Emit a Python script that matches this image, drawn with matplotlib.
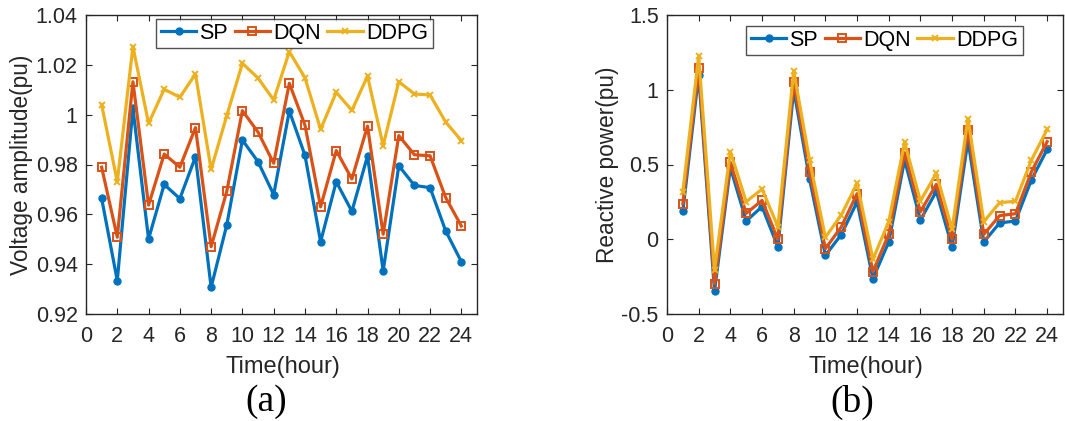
import matplotlib
matplotlib.use("Agg")
import matplotlib.pyplot as plt

hours = list(range(1, 25))
series_names = ["SP", "DQN", "DDPG"]

voltage_sp = [0.9664, 0.9334, 1.0025, 0.9501, 0.9720, 0.9663, 0.9831, 0.9307, 0.9557, 0.9898,
              0.9811, 0.9679, 1.0015, 0.9837, 0.9490, 0.9731, 0.9612, 0.9834, 0.9373, 0.9795,
              0.9716, 0.9707, 0.9533, 0.9410]
voltage_dqn = [0.9789, 0.9508, 1.0132, 0.9637, 0.9842, 0.9789, 0.9948, 0.9470, 0.9692, 1.0016,
               0.9930, 0.9805, 1.0126, 0.9958, 0.9630, 0.9856, 0.9742, 0.9954, 0.9520, 0.9916,
               0.9839, 0.9835, 0.9667, 0.9553]
voltage_ddpg = [1.0040, 0.9731, 1.0273, 0.9965, 1.0102, 1.0070, 1.0163, 0.9780, 0.9996, 1.0206,
                1.0147, 1.0059, 1.0253, 1.0148, 0.9941, 1.0090, 1.0017, 1.0155, 0.9876, 1.0132,
                1.0083, 1.0079, 0.9970, 0.9896]

reactive_sp = [0.189, 1.10, -0.346, 0.48, 0.122, 0.218, -0.052, 1.00, 0.403, -0.108,
               0.031, 0.25, -0.264, -0.018, 0.53, 0.129, 0.32, -0.052, 0.66, -0.018,
               0.109, 0.122, 0.396, 0.601]
reactive_dqn = [0.238, 1.148, -0.299, 0.514, 0.173, 0.260, 0.0, 1.052, 0.452, -0.063,
                0.082, 0.305, -0.217, 0.035, 0.579, 0.184, 0.367, 0.0, 0.733, 0.033,
                0.158, 0.171, 0.450, 0.653]
reactive_ddpg = [0.318, 1.226, -0.206, 0.586, 0.251, 0.336, 0.084, 1.125, 0.528, 0.013,
                 0.162, 0.374, -0.134, 0.118, 0.648, 0.256, 0.441, 0.066, 0.807, 0.118,
                 0.245, 0.254, 0.528, 0.735]

colors = ["#0072BD", "#D95319", "#EDB120"]
W, H = 1065, 421
fig = plt.figure(figsize=(W / 100, H / 100), dpi=100)
plt.rcParams['font.family'] = ['Liberation Sans', 'DejaVu Sans']

def px_axes(x0, x1, y0, y1):
    return fig.add_axes([x0 / W, 1 - y1 / H, (x1 - x0) / W, (y1 - y0) / H])

axA = px_axes(86, 477, 15, 314)
axB = px_axes(667, 1063, 15, 314)

def style(ax):
    for s in ax.spines.values():
        s.set_color("#262626")
        s.set_linewidth(1.0)
    ax.tick_params(direction="in", top=True, right=True, length=4, width=0.8,
                   labelsize=15.5, colors="#262626")
    ax.tick_params(axis="x", pad=9)
    ax.tick_params(axis="y", pad=6)
    ax.set_xlim(0, 25)
    ax.set_xticks(range(0, 25, 2))

def draw(ax, data):
    markers = [dict(marker="o", markersize=5, markerfacecolor=colors[0]),
               dict(marker="s", markersize=6, markerfacecolor="none", markeredgewidth=1.4),
               dict(marker="x", markersize=5, markeredgewidth=1.4)]
    for vals, c, mk, name in zip(data, colors, markers, series_names):
        ax.plot(hours, vals, color=c, lw=2.3, label=name, **mk)

draw(axA, [voltage_sp, voltage_dqn, voltage_ddpg])
style(axA)
axA.set_ylim(0.92, 1.04)
axA.set_yticks([0.92, 0.94, 0.96, 0.98, 1.0, 1.02, 1.04])
axA.set_yticklabels(["0.92", "0.94", "0.96", "0.98", "1", "1.02", "1.04"])

draw(axB, [reactive_sp, reactive_dqn, reactive_ddpg])
style(axB)
axB.set_ylim(-0.5, 1.5)
axB.set_yticks([-0.5, 0, 0.5, 1, 1.5])
axB.set_yticklabels(["-0.5", "0", "0.5", "1", "1.5"])

def legend(ax, x0, x1, y0, y1):
    bb = ax.get_position()
    lg = ax.legend(ncol=3, loc="center",
                   bbox_to_anchor=(((x0 + x1) / 2 / W - bb.x0) / bb.width,
                                   (1 - (y0 + y1) / 2 / H - bb.y0) / bb.height),
                   frameon=True, fancybox=False, edgecolor="#262626", fontsize=15.5,
                   handlelength=1.65, handletextpad=0.15, columnspacing=0.3,
                   borderpad=0.2, borderaxespad=0)
    lg.get_frame().set_linewidth(1.0)

legend(axA, 162, 427, 20, 47)
legend(axB, 751, 1018, 27, 54)

fig.text(22 / W, 1 - 165 / H, "Voltage amplitude(pu)", rotation=90, ha="center", va="center",
         fontsize=16.3, color="#262626")
fig.text(607 / W, 1 - 165 / H, "Reactive power(pu)", rotation=90, ha="center", va="center",
         fontsize=16.3, color="#262626")
fig.text(283 / W, 1 - 367 / H, "Time(hour)", ha="center", va="center", fontsize=17, color="#262626")
fig.text(866 / W, 1 - 367 / H, "Time(hour)", ha="center", va="center", fontsize=17, color="#262626")
fig.text(266 / W, 1 - 402 / H, "(a)", ha="center", va="center", fontsize=27,
         family=["Liberation Serif", "DejaVu Serif"], color="black")
fig.text(852 / W, 1 - 402 / H, "(b)", ha="center", va="center", fontsize=27,
         family=["Liberation Serif", "DejaVu Serif"], color="black")

fig.savefig("out.png", dpi=100)
